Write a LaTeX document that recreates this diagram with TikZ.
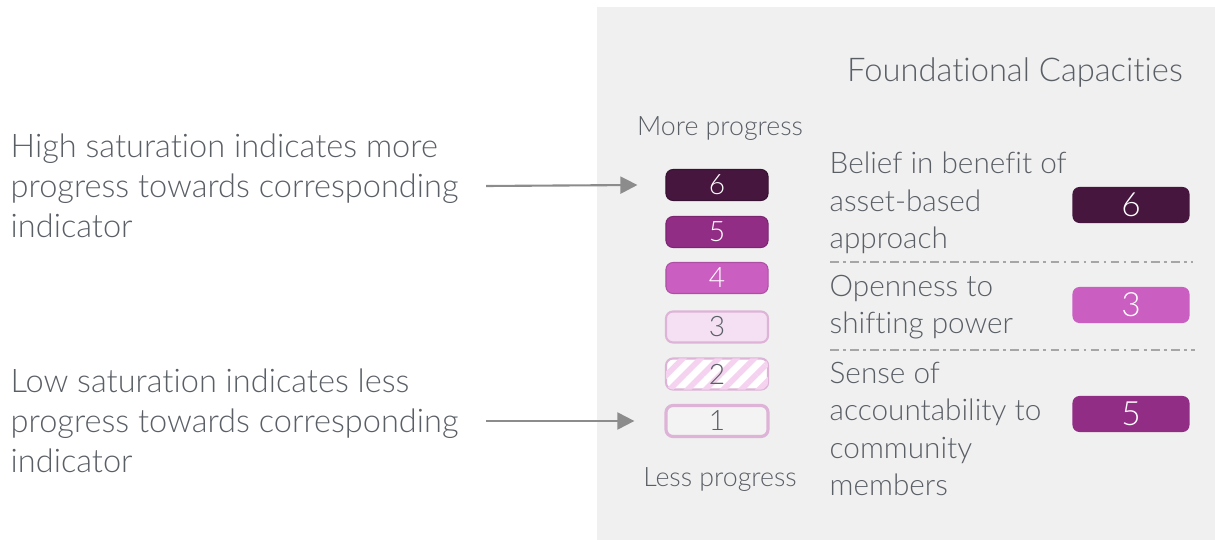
\documentclass[tikz,border=0pt]{standalone}
\usepackage{fontspec}
\setmainfont{Lato}[UprightFont={* Light},Ligatures=NoCommon]
\usetikzlibrary{arrows.meta,patterns.meta}
\definecolor{ink}{HTML}{5A5F66}
\definecolor{panelgray}{HTML}{F0F0F0}
\definecolor{lvlsix}{HTML}{46163F}
\definecolor{lvlfive}{HTML}{922D86}
\definecolor{lvlfour}{HTML}{CB5EC1}
\definecolor{lvlthree}{HTML}{F5E0F3}
\definecolor{lvltwo}{HTML}{F5D3F0}
\definecolor{lvlone}{HTML}{F3F3F3}
\definecolor{lvledge}{HTML}{DDB3D7}
\tikzset{
	txt/.style={inner sep=0pt,text=ink,align=left,anchor=west},
	lvl/.style 2 args={rounded corners=2pt,minimum width=1.02cm,minimum height=0.31cm,inner sep=0pt,fill=#1,text=#2,font=\fontsize{8}{8}\selectfont},
	score/.style 2 args={rounded corners=2pt,minimum width=1.17cm,minimum height=0.36cm,inner sep=0pt,fill=#1,text=#2,font=\fontsize{9.5}{9.5}\selectfont},
	pointer/.style={draw=gray!90,line width=0.6pt,-{Triangle[length=0.17cm,width=0.17cm]}},
	sep/.style={draw=gray!70,line width=0.5pt,dash pattern=on 2.5pt off 1.2pt on 0.8pt off 1.2pt}
}

\begin{document}
\begin{tikzpicture}[x=0.01cm,y=-0.01cm]
	\useasboundingbox (0,0) rectangle (1215,540);
	\fill[panelgray] (597,7) rectangle (1215,540);

	% left notes
	\node[txt,font=\fontsize{9.25}{11.4}\selectfont] (hi) at (10,186) {High saturation indicates more\\progress towards corresponding\\indicator};
	\node[txt,font=\fontsize{9.25}{11.4}\selectfont] (lo) at (10,421) {Low saturation indicates less\\progress towards corresponding\\indicator};

	% scale
	\node[txt,anchor=center,font=\fontsize{7.6}{7.6}\selectfont] (more) at (720,129) {More progress};
	\node[lvl={lvlsix}{white},draw=lvlsix!80!black,line width=0.3pt] (b6) at (717,185) {6};
	\node[lvl={lvlfive}{white},draw=lvlfive!85!black,line width=0.3pt] (b5) at (717,232) {5};
	\node[lvl={lvlfour}{white},draw=lvlfour!85!black,line width=0.3pt] (b4) at (717,278) {4};
	\node[lvl={lvlthree}{ink},draw=lvledge,line width=0.6pt] (b3) at (717,327) {3};
	\node[lvl={white}{ink},draw=lvledge,line width=0.6pt,
		postaction={pattern={Lines[angle=45,distance=3.6pt,line width=1.6pt]},pattern color=lvltwo}] (b2) at (717,374) {};
	\node[text=ink,font=\fontsize{8}{8}\selectfont,inner sep=0pt] (t2) at (b2) {2};
	\node[lvl={lvlone}{ink},draw=lvledge,line width=0.9pt] (b1) at (717,421) {1};
	\node[txt,anchor=center,font=\fontsize{7.6}{7.6}\selectfont] (less) at (720,480) {Less progress};

	\draw[pointer] ([xshift=0.27cm]hi.east) -- ([xshift=-0.28cm]b6.west);
	\draw[pointer] ([xshift=0.27cm]lo.east) -- ([xshift=-0.30cm]b1.west);

	% capacities
	\node[txt,anchor=center,font=\fontsize{9.3}{9.3}\selectfont] (title) at (1015,72) {Foundational Capacities};
	\node[txt,font=\fontsize{8.45}{10.7}\selectfont] (c1) at (829,203) {Belief in benefit of\\asset-based\\approach};
	\node[txt,font=\fontsize{8.45}{10.7}\selectfont] (c2) at (829,307) {Openness to\\shifting power};
	\node[txt,font=\fontsize{8.45}{10.7}\selectfont] (c3) at (829,429) {Sense of\\accountability to\\community\\members};
	\node[score={lvlsix}{white}] (s1) at (1131,205) {6};
	\node[score={lvlfour}{white}] (s2) at (1131,305) {3};
	\node[score={lvlfive}{white}] (s3) at (1131,414) {5};
	\draw[sep] (830,262) -- (1193,262);
	\draw[sep] (830,350) -- (1195,350);
\end{tikzpicture}
\end{document}
